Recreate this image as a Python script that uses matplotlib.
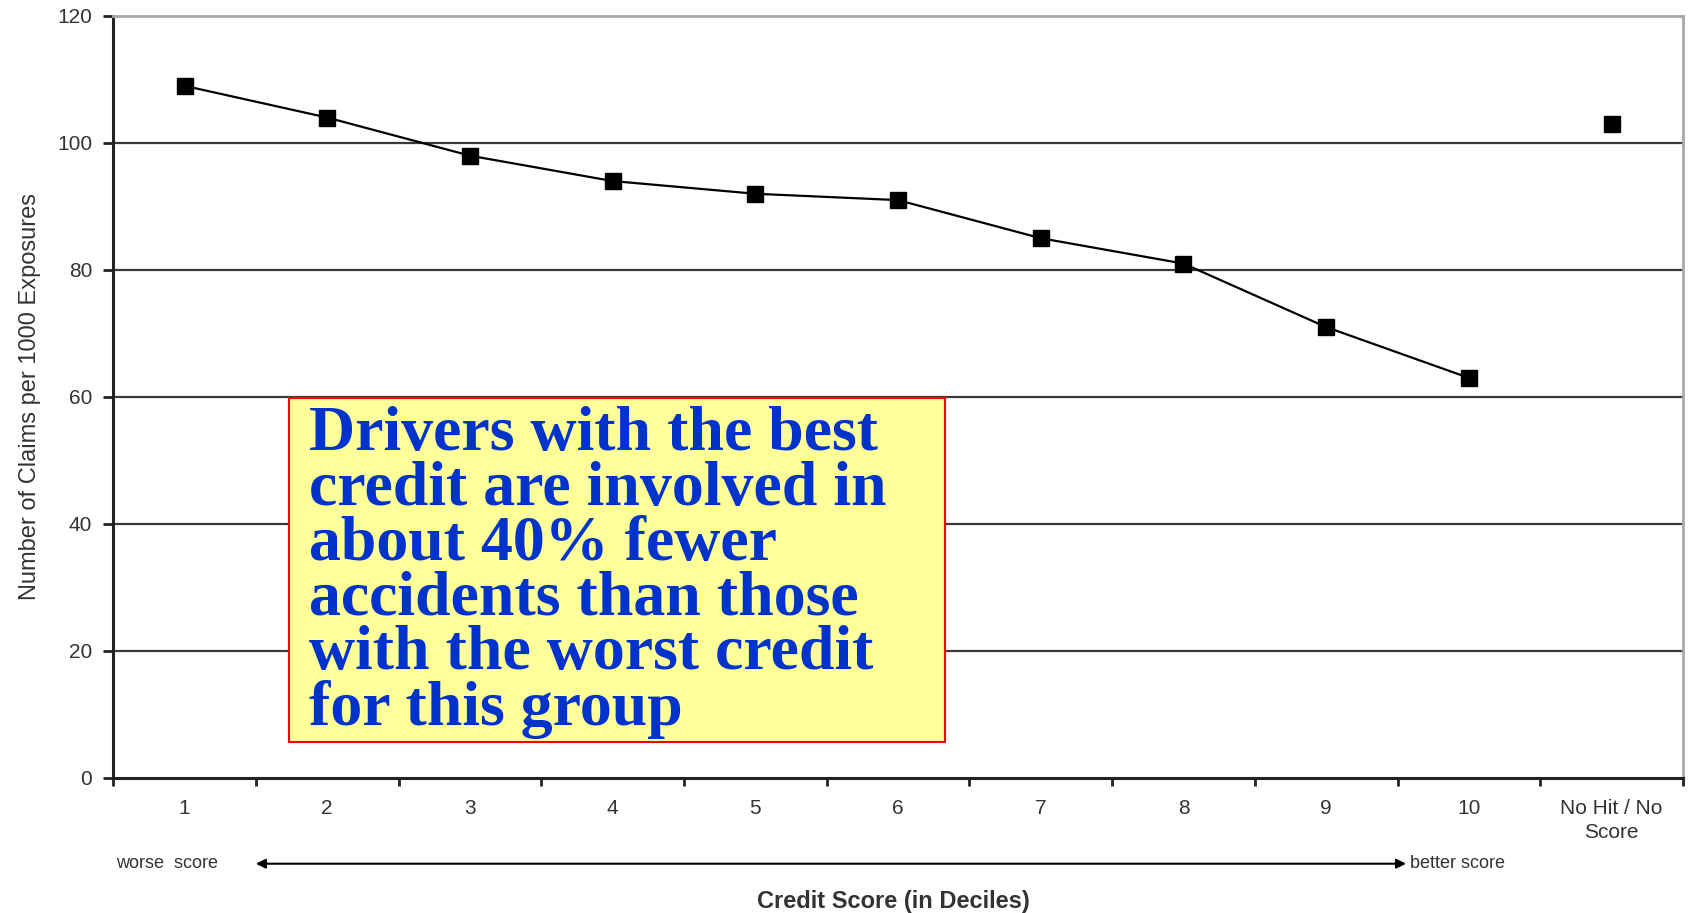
import matplotlib
matplotlib.use("Agg")
import matplotlib.pyplot as plt
from matplotlib.patches import Rectangle
import matplotlib.transforms as mtransforms

# data
deciles = ["1", "2", "3", "4", "5", "6", "7", "8", "9", "10"]
claims = [109, 104, 98, 94, 92, 91, 85, 81, 71, 63]
nohit_label = "No Hit / No\nScore"
nohit_claims = 103
yticks = [0, 20, 40, 60, 80, 100, 120]

note = ("Drivers with the best\ncredit are involved in\nabout 40% fewer\n"
        "accidents than those\nwith the worst credit\nfor this group")

sans = ["Liberation Sans", "DejaVu Sans"]

fig = plt.figure(figsize=(16.89, 9.13), dpi=100)
ax = fig.add_axes([0.067, 0.148, 0.9294, 0.8345])

xs = list(range(1, len(deciles) + 1))
ax.plot(xs, claims, color="black", lw=1.6, marker="s", ms=11.5, zorder=5)
ax.plot([len(deciles) + 1], [nohit_claims], color="black", marker="s", ms=11.5,
        ls="none", zorder=5)

ax.set_xlim(0.5, len(deciles) + 1.5)
ax.set_ylim(0, 120)

# gridlines
for y in yticks[1:-1]:
    ax.axhline(y, color="#3a3a3a", lw=1.6, zorder=1)

ax.set_yticks(yticks)
ax.set_yticklabels([str(v) for v in yticks], fontsize=15, color="#333333",
                   family=sans)
ax.set_xticks([i + 0.5 for i in range(0, len(deciles) + 2)])
ax.set_xticklabels([])
ax.set_xticks(xs + [len(deciles) + 1], minor=True)
ax.set_xticklabels(deciles + [nohit_label], minor=True, fontsize=15,
                   color="#333333", linespacing=1.35, family=sans)
ax.tick_params(axis="x", which="minor", length=0, pad=15)
ax.tick_params(axis="x", which="major", length=6, width=2, direction="out",
               color="#222222")
ax.tick_params(axis="y", length=7, width=2, direction="out", color="#222222", pad=8)

for s in ["left", "bottom"]:
    ax.spines[s].set_linewidth(2.2)
    ax.spines[s].set_color("#222222")
for s in ["top", "right"]:
    ax.spines[s].set_linewidth(2)
    ax.spines[s].set_color("#a8a8a8")

ax.set_ylabel("Number of Claims per 1000 Exposures",
              family=["Liberation Sans Narrow", "Liberation Sans", "DejaVu Sans"],
              fontsize=17, color="#333333", labelpad=12)

# annotation box
ax.add_patch(Rectangle((1.73, 5.6), 4.6, 54.3, facecolor="#ffff99",
                       edgecolor="#ff0000", lw=1.5, zorder=6))
ax.text(1.87, 58.6, note, family=["Liberation Serif", "DejaVu Serif"],
        fontweight="bold", fontsize=46, color="#0033cc", va="top", ha="left",
        linespacing=0.93, zorder=7)

# worse / better score arrow below axis
tr = mtransforms.blended_transform_factory(ax.transData, fig.transFigure)
ax.annotate("", xy=(1.5, 0.054), xytext=(9.56, 0.054), xycoords=tr, textcoords=tr,
            arrowprops=dict(arrowstyle="<|-|>", color="black", lw=1.5,
                            mutation_scale=14, shrinkA=0, shrinkB=0),
            annotation_clip=False)
ax.text(0.52, 0.054, "worse  score", transform=tr, fontsize=13, va="center",
        ha="left", color="#333333", family=sans)
ax.text(9.59, 0.054, "better score", transform=tr, fontsize=13, va="center",
        ha="left", color="#333333", family=sans)

fig.text(0.529, 0.013, "Credit Score (in Deciles)", fontsize=17, fontweight="bold",
         ha="center", va="center", color="#333333", family=sans)

fig.savefig("out.png", dpi=100, facecolor="white")
